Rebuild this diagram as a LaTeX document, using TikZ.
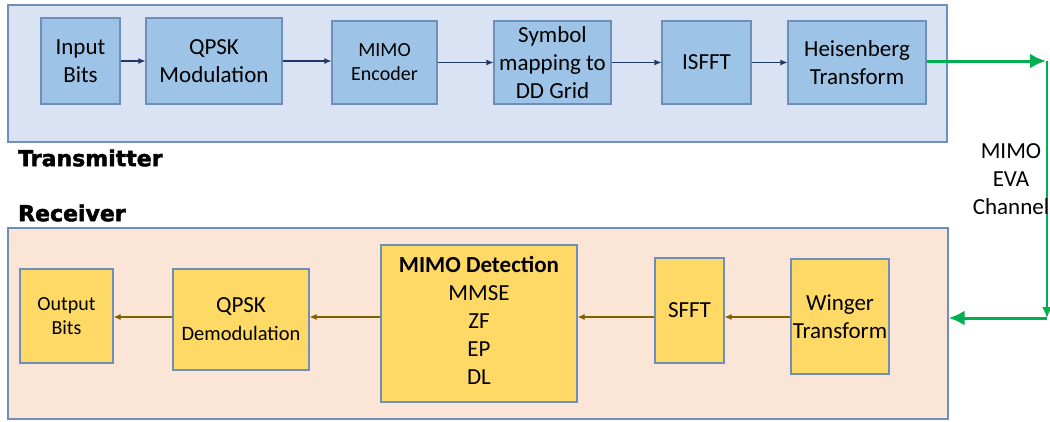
\documentclass[tikz,border=0pt]{standalone}
\usepackage{fontspec}
\setmainfont{Carlito}
\newfontfamily\headfont{DejaVu Sans}[BoldFeatures={FakeBold=2}]
\usetikzlibrary{arrows.meta}
\definecolor{txbg}{HTML}{DAE3F3}
\definecolor{txfill}{HTML}{9DC3E6}
\definecolor{rxbg}{HTML}{FBE5D6}
\definecolor{rxfill}{HTML}{FFD966}
\definecolor{edge}{HTML}{6F8FBA}
\definecolor{navy}{HTML}{203864}
\definecolor{olive}{HTML}{7F6000}
\definecolor{chan}{HTML}{00B050}
\tikzset{
  panel/.style={draw=edge, line width=1.2pt},
  txblock/.style={draw=edge, fill=txfill, line width=1.1pt, inner sep=0pt, align=center,
    font=\fontsize{23}{28}\selectfont},
  rxblock/.style={draw=edge, fill=rxfill, line width=1.1pt, inner sep=0pt, align=center,
    font=\fontsize{23}{28}\selectfont},
  txflow/.style={draw=navy, line width=1.1pt, -{Latex[length=7pt,width=6pt]}},
  rxflow/.style={draw=olive, line width=1.1pt, -{Latex[length=7pt,width=6pt]}},
  chanflow/.style={draw=chan, line width=3pt, -{Latex[length=16pt,width=15pt]}},
  heading/.style={font=\headfont\bfseries\fontsize{22}{24}\selectfont, anchor=west, inner sep=0pt},
}
\begin{document}
\begin{tikzpicture}[x=1pt,y=-1pt]
\useasboundingbox (0,0) rectangle (1050,421);

% panels
\node[panel, fill=txbg, minimum width=939, minimum height=137, inner sep=0pt] (txpanel) at (477.5,73.5) {};
\node[panel, fill=rxbg, minimum width=940, minimum height=191, inner sep=0pt] (rxpanel) at (478,323.5) {};

\node[heading] (txlabel) at (18,158) {Transmitter};
\node[heading] (rxlabel) at (18,213) {Receiver};

% transmitter chain
\node[txblock, minimum width=79, minimum height=86] (inbits) at (80.5,61) {Input\\Bits};
\node[txblock, minimum width=136, minimum height=86] (qpsk) at (214,61) {QPSK\\Modulation};
\node[txblock, minimum width=105, minimum height=83, font=\fontsize{20}{24}\selectfont] (enc) at (384.5,62.5) {MIMO\\Encoder};
\node[txblock, minimum width=117, minimum height=83] (map) at (552.5,62.5) {Symbol\\mapping to\\DD Grid};
\node[txblock, minimum width=89, minimum height=83] (isfft) at (706.5,62.5) {ISFFT};
\node[txblock, minimum width=138, minimum height=83] (heis) at (857,62.5) {Heisenberg\\Transform};

\draw[txflow] (inbits.east) -- (inbits.east -| qpsk.west);
\draw[txflow] (qpsk.east) -- (qpsk.east -| enc.west);
\draw[txflow] (enc.east) -- (enc.east -| map.west);
\draw[txflow] (map.east) -- (map.east -| isfft.west);
\draw[txflow] (isfft.east) -- (isfft.east -| heis.west);

% receiver chain
\node[rxblock, minimum width=93, minimum height=94, font=\fontsize{20}{24}\selectfont] (outbits) at (66.5,316) {Output\\Bits};
\node[rxblock, minimum width=136, minimum height=101] (demod) at (241,319.5) {QPSK\\{\fontsize{20.5}{24}\selectfont Demodulation}};
\node[rxblock, minimum width=196, minimum height=157] (det) at (479,323.5) {};
\node[rxblock, draw=none, fill=none, anchor=north] (detlist) at (479,256) {\textbf{MIMO Detection}\\MMSE\\ZF\\EP\\DL};
\node[rxblock, minimum width=69, minimum height=105] (sfft) at (689.5,310.5) {SFFT};
\node[rxblock, minimum width=98, minimum height=115] (wig) at (840,316.5) {Winger\\Transform};

\coordinate (rxline) at (0,317);
\draw[rxflow] (wig.west |- rxline) -- (sfft.east |- rxline);
\draw[rxflow] (sfft.west |- rxline) -- (det.east |- rxline);
\draw[rxflow] (det.west |- rxline) -- (demod.east |- rxline);
\draw[rxflow] (demod.west |- rxline) -- (outbits.east |- rxline);

% channel link
\coordinate (chtop) at (1047,61);
\coordinate (chbot) at (1047,318);
\draw[draw=chan, line width=1.8pt, -{Latex[length=11pt,width=10pt]}] (chtop) -- (chbot);
\draw[chanflow] (heis.east |- chtop) -- ([xshift=-1pt]chtop);
\draw[chanflow] (chbot) -- (chbot -| rxpanel.east);
\node[align=center, font=\fontsize{23}{28}\selectfont, inner sep=0pt] (chlabel) at (1011,179) {MIMO\\EVA\\Channel};
\end{tikzpicture}
\end{document}
